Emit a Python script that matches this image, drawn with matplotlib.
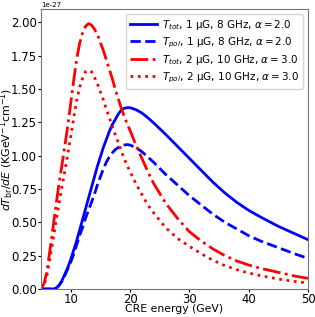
import numpy as np
import matplotlib
matplotlib.use("Agg")
import matplotlib.pyplot as plt

# CRE energy (GeV) and dT_br/dE values, in units of 1e-27
energy = [5, 5.5, 6, 6.5, 7, 7.5, 8, 8.5, 9, 9.5, 10, 10.5, 11, 11.5, 12, 12.5, 13,
          13.5, 14, 14.5, 15, 15.5, 16, 16.5, 17, 17.5, 18, 18.5, 19, 19.5, 20,
          21, 22, 23, 24, 26, 28, 30, 32, 34, 36, 38, 40, 42, 45, 48, 50]

t_tot_1 = [0, 0, 0, 0, 0, 0.005, 0.025, 0.06, 0.11, 0.16, 0.22, 0.29, 0.36, 0.44, 0.52,
           0.60, 0.68, 0.76, 0.84, 0.92, 0.99, 1.06, 1.12, 1.18, 1.23, 1.27, 1.31, 1.34,
           1.355, 1.36, 1.36,
           1.345, 1.32, 1.285, 1.245, 1.16, 1.07, 0.98, 0.89, 0.80, 0.72, 0.65, 0.59,
           0.54, 0.47, 0.41, 0.37]
t_pol_1 = [0, 0, 0, 0, 0, 0.005, 0.025, 0.055, 0.10, 0.15, 0.20, 0.26, 0.33, 0.40, 0.46,
           0.53, 0.59, 0.65, 0.71, 0.78, 0.84, 0.90, 0.95, 0.99, 1.02, 1.045, 1.06, 1.075,
           1.08, 1.083, 1.08,
           1.06, 1.03, 0.99, 0.95, 0.86, 0.78, 0.70, 0.63, 0.56, 0.50, 0.45, 0.40,
           0.36, 0.31, 0.26, 0.23]
t_tot_2 = [0, 0.04, 0.13, 0.29, 0.45, 0.62, 0.78, 0.92, 1.07, 1.22, 1.39, 1.56, 1.72, 1.84,
           1.92, 1.97, 1.99, 1.98, 1.95, 1.91, 1.85, 1.79, 1.72, 1.65, 1.58, 1.50, 1.43,
           1.36, 1.30, 1.24, 1.19,
           1.08, 0.98, 0.88, 0.79, 0.645, 0.53, 0.43, 0.36, 0.30, 0.25, 0.21, 0.18,
           0.155, 0.125, 0.095, 0.08]
t_pol_2 = [0, 0.03, 0.10, 0.23, 0.36, 0.50, 0.63, 0.76, 0.88, 1.01, 1.14, 1.28, 1.41, 1.51,
           1.58, 1.63, 1.64, 1.63, 1.59, 1.54, 1.48, 1.42, 1.35, 1.29, 1.22, 1.16, 1.10,
           1.04, 0.98, 0.93, 0.88,
           0.79, 0.71, 0.63, 0.57, 0.46, 0.38, 0.32, 0.265, 0.215, 0.175, 0.145, 0.12,
           0.10, 0.075, 0.055, 0.045]

labels = [r"$T_{tot}$, 1 μG, 8 GHz, $\alpha = 2.0$",
          r"$T_{pol}$, 1 μG, 8 GHz, $\alpha = 2.0$",
          r"$T_{tot}$, 2 μG, 10 GHz, $\alpha = 3.0$",
          r"$T_{pol}$, 2 μG, 10 GHz, $\alpha = 3.0$"]

fig = plt.figure(figsize=(3.15, 3.17), dpi=100)
ax = fig.add_axes([41/315, 1 - 289/317, 267/315, 280/317])

# values are plotted in units of 1e-27, the factor is written above the axis
ax.plot(energy, t_tot_1, color="b", ls="-", lw=2, label=labels[0])
ax.plot(energy, t_pol_1, color="b", ls="--", lw=2, label=labels[1])
ax.plot(energy, t_tot_2, color="r", ls="-.", lw=2, label=labels[2])
ax.plot(energy, t_pol_2, color="r", ls=":", lw=2, label=labels[3])

ax.set_xlim(5, 50)
ax.set_ylim(0, 2.1)
ax.set_xticks([10, 20, 30, 40, 50])
ax.set_yticks([0, 0.25, 0.5, 0.75, 1.0, 1.25, 1.5, 1.75, 2.0])
ax.set_yticklabels(["0.00", "0.25", "0.50", "0.75", "1.00", "1.25", "1.50", "1.75", "2.00"])
ax.tick_params(labelsize=8.4, length=2, pad=1)
for sp in ax.spines.values():
    sp.set_color("0.45")
ax.text(0.0, 1.004, "1e-27", transform=ax.transAxes, fontsize=5, va="bottom", ha="left")
ax.set_xlabel("CRE energy (GeV)", fontsize=7.8)
ax.set_ylabel(r"$dT_{\rm br}/dE$ (KGeV$^{-1}$cm$^{-1}$)", fontsize=7.9)
# pull the labels in close to the tick labels, as in the original
ax.xaxis.set_label_coords(0.5, -0.054)
ax.yaxis.set_label_coords(-0.092, 0.5)
ax.legend(loc="upper right", fontsize=7.5, handlelength=2.6, handletextpad=0.5,
          labelspacing=0.32, borderpad=0.4, borderaxespad=0.45)

fig.savefig("out.png", dpi=100)
